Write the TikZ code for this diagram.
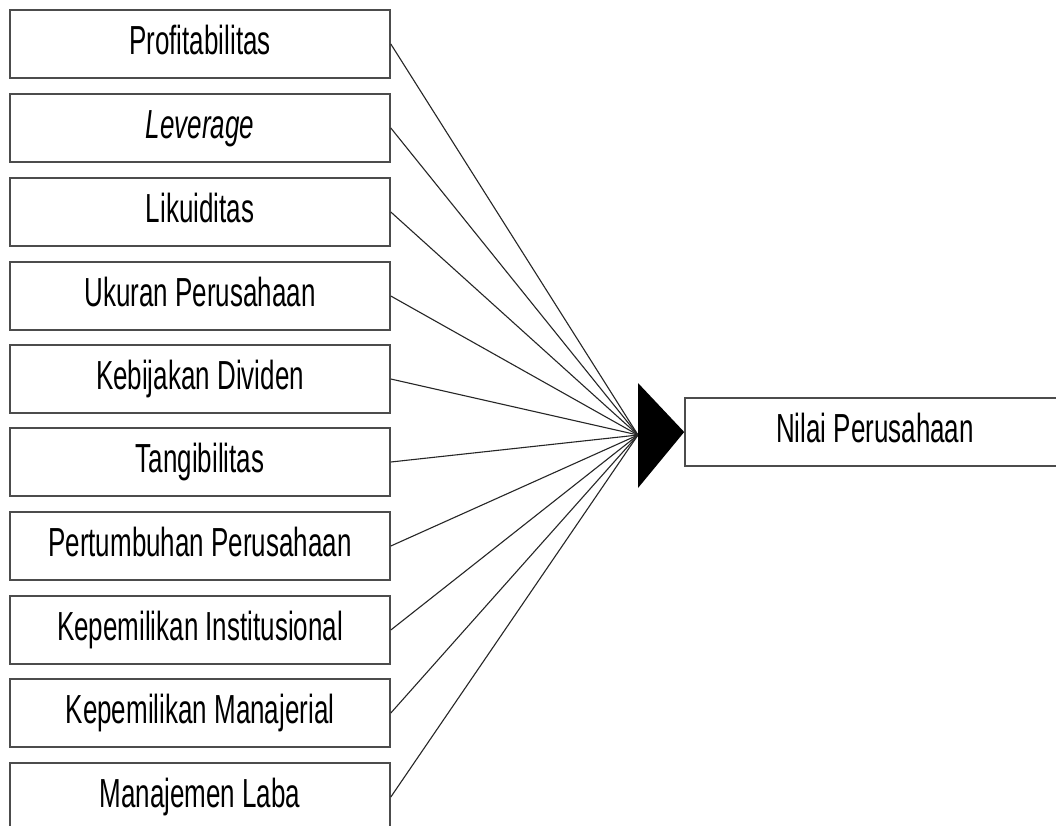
\documentclass[tikz,border=0pt]{standalone}
\usepackage{fontspec}
\newfontfamily\narrowsans[FakeStretch=0.64]{Liberation Sans}
\begin{document}
\begin{tikzpicture}[x=1pt,y=-1pt,
  varbox/.style={draw=black!70, line width=1.6pt, fill=white, minimum width=380pt, minimum height=68pt,
    inner sep=0pt, text height=30pt, text depth=10pt,
    font=\narrowsans\fontsize{40.6}{48}\selectfont},
  link/.style={draw=black!85, line width=1.1pt}]
\useasboundingbox (0,0) rectangle (1056,825);
\clip (0,0) rectangle (1056,825);
\fill[white] (0,0) rectangle (1056,825);
\coordinate (hub) at (638,435);
\node[varbox] (b1) at (200,44) {Profitabilitas};
\node[varbox] (b2) at (200,128) {\itshape Leverage};
\node[varbox] (b3) at (200,212) {Likuiditas};
\node[varbox] (b4) at (200,296) {Ukuran Perusahaan};
\node[varbox] (b5) at (200,379) {Kebijakan Dividen};
\node[varbox] (b6) at (200,462) {Tangibilitas};
\node[varbox] (b7) at (200,546) {Pertumbuhan Perusahaan};
\node[varbox] (b8) at (200,630) {Kepemilikan Institusional};
\node[varbox] (b9) at (200,713) {Kepemilikan Manajerial};
\node[varbox] (b10) at (200,797) {Manajemen Laba};
\node[varbox] (nilai) at (875,432) {Nilai Perusahaan};
\foreach \i in {1,...,10} {\draw[link] (b\i.east) -- (hub);}
\fill[black] (hub) ++(0,-52) -- (nilai.west) -- (638,488) -- cycle;
\end{tikzpicture}
\end{document}
